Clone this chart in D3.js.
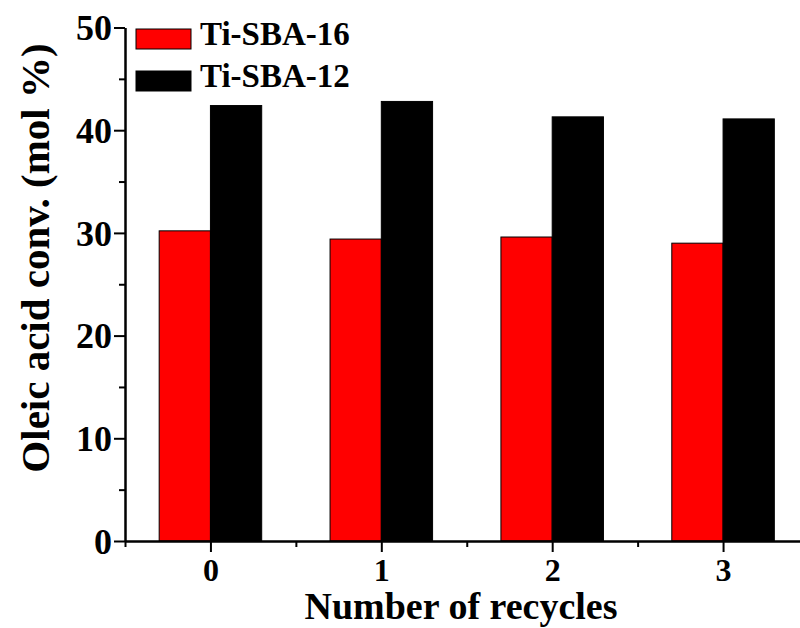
<!DOCTYPE html>
<html>
<head>
<meta charset="utf-8">
<script src="https://cdn.jsdelivr.net/npm/d3@7/dist/d3.min.js"></script>
<style>
  html, body { margin: 0; padding: 0; background: #fff; }
  svg { display: block; }
  text { font-family: "Liberation Serif", "Times New Roman", serif; font-weight: bold; fill: #000; }
</style>
</head>
<body>
<svg id="chart" width="800" height="628"></svg>
<script>
// Recycling runs and oleic acid conversion (mol %) for each catalyst
const cycles = [0, 1, 2, 3];
const tiSBA16 = [30.2, 29.4, 29.6, 29.0];
const tiSBA12 = [42.4, 42.8, 41.3, 41.1];
const seriesNames = ["Ti-SBA-16", "Ti-SBA-12"];
const seriesColors = ["#ff0000", "#000000"];
const yTicks = [0, 10, 20, 30, 40, 50];
const yMinorTicks = [5, 15, 25, 35, 45];
const xMinorTicks = [-0.5, 0.5, 1.5, 2.5, 3.5];

const svg = d3.select("#chart");

const x = d3.scaleLinear().domain([-0.5, 3.5]).range([125, 808.5]);
const y = d3.scaleLinear().domain([0, 50]).range([541, 27.5]);
const barW = 0.3; // width of one bar in category units

// Bars: first series to the left of each tick, second to the right
const series = [tiSBA16, tiSBA12];
series.forEach((vals, s) => {
  svg.append("g")
    .selectAll("rect")
    .data(cycles)
    .join("rect")
    .attr("x", (d) => x(s === 0 ? d - barW : d))
    .attr("width", x(barW) - x(0))
    .attr("y", (d, i) => y(vals[i]))
    .attr("height", (d, i) => y(0) - y(vals[i]))
    .attr("fill", seriesColors[s])
    .attr("stroke", "#000")
    .attr("stroke-width", 1);
});

// Axes
const styleAxis = (g) => {
  g.select(".domain").attr("stroke", "#000").attr("stroke-width", 2);
  g.selectAll(".tick line").attr("stroke", "#000").attr("stroke-width", 2);
};

svg.append("g")
  .attr("transform", `translate(${x(-0.5)},0)`)
  .call(d3.axisLeft(y).tickValues(yMinorTicks).tickSize(6).tickSizeOuter(0).tickFormat(""))
  .call(styleAxis);

svg.append("g")
  .attr("transform", `translate(${x(-0.5)},0)`)
  .call(d3.axisLeft(y).tickValues(yTicks).tickSize(11).tickSizeOuter(0).tickPadding(2).tickFormat(d3.format("d")))
  .call(styleAxis)
  .call((g) => g.selectAll(".tick text")
    .style("font-size", "36px").attr("dy", "0.34em"));

svg.append("g")
  .attr("transform", `translate(0,${y(0)})`)
  .call(d3.axisBottom(x).tickValues(xMinorTicks).tickSize(6).tickSizeOuter(0).tickFormat(""))
  .call(styleAxis);

svg.append("g")
  .attr("transform", `translate(0,${y(0)})`)
  .call(d3.axisBottom(x).tickValues(cycles).tickSize(11).tickSizeOuter(0).tickPadding(6).tickFormat(d3.format("d")))
  .call(styleAxis)
  .call((g) => g.selectAll(".tick text")
    .style("font-size", "32px").attr("dy", "0.71em"));

// Axis titles
svg.append("text")
  .attr("x", 461)
  .attr("y", 619)
  .attr("text-anchor", "middle")
  .style("font-size", "38px")
  .text("Number of recycles");

svg.append("text")
  .attr("transform", "translate(49,258) rotate(-90)")
  .attr("text-anchor", "middle")
  .style("font-size", "41px")
  .text("Oleic acid conv. (mol %)");

// Legend
const legend = svg.append("g");
seriesNames.forEach((name, i) => {
  const cy = 39 + i * 42;
  legend.append("rect")
    .attr("x", 136).attr("y", cy - 10)
    .attr("width", 55).attr("height", 20)
    .attr("fill", seriesColors[i])
    .attr("stroke", "#000").attr("stroke-width", 1);
  legend.append("text")
    .attr("x", 200).attr("y", cy + 6)
    .style("font-size", "33px")
    .text(name);
});
</script>
</body>
</html>
